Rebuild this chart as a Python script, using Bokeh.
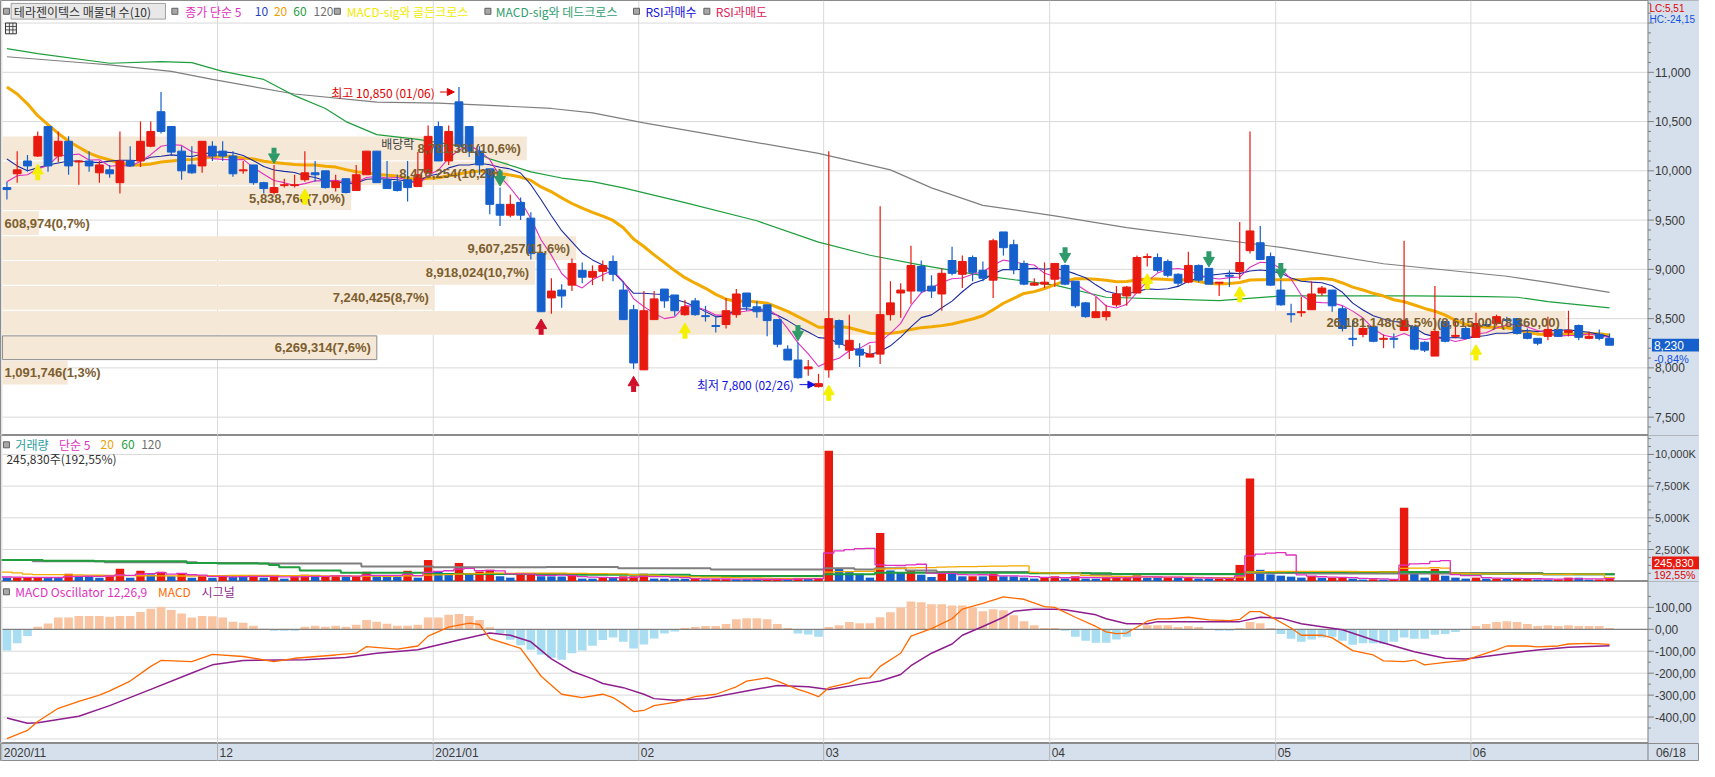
import pandas as pd
from bokeh.plotting import figure
from bokeh.layouts import column
from bokeh.models import Range1d, ColumnDataSource, Arrow, NormalHead
from bokeh.core.properties import value
from bokeh.embed import file_html
from bokeh.resources import INLINE

# ------------------------------------------------------------------ data
stock_name = "테라젠이텍스"
holidays = ["2020-12-25", "2020-12-31", "2021-01-01", "2021-02-11", "2021-02-12",
            "2021-03-01", "2021-05-05", "2021-05-19"]
dates = [d for d in pd.bdate_range("2020-11-02", "2021-06-18")
         if d.strftime("%Y-%m-%d") not in holidays]

opens = [9830, 9970, 10100, 10150, 10450, 10150, 10300, 10090, 10100, 9980,
         10010, 9880, 10100, 10100, 10250, 10600, 10450, 10200, 10060, 10050,
         10250, 10200, 10150, 10000, 10060, 9880, 9780, 9850, 9850, 9910,
         9980, 10000, 9830, 9920, 9800, 9960, 10200, 9910, 9890, 9910,
         9840, 9980, 10450, 10100, 10700, 10450, 10200, 10020, 9660, 9550,
         9680, 9520, 9160, 8710, 8790, 8840, 8990, 8920, 8980, 9080,
         8790, 8590, 7980, 8490, 8800, 8740, 8540, 8680, 8530, 8430,
         8440, 8540, 8760, 8620, 8640, 8490, 8190, 8080, 7990, 7810,
         7980, 8480, 8180, 8190, 8110, 8140, 8540, 8760, 8780, 9030,
         8830, 8750, 9090, 8950, 9120, 8990, 8890, 9380, 9250, 9060,
         8840, 8850, 8900, 9040, 8880, 8660, 8510, 8520, 8640, 8730,
         8760, 9120, 9120, 9080, 8950, 8870, 9040, 9010, 8860, 8940,
         8980, 9190, 9270, 9130, 8790, 8550, 8560, 8590, 8760, 8790,
         8600, 8300, 8340, 8420, 8290, 8300, 8380, 8420, 8260, 8120,
         8470, 8320, 8400, 8310, 8440, 8450, 8490, 8500, 8350, 8300,
         8320, 8390, 8360, 8430, 8300, 8340, 8300]
highs = [9890, 10200, 10160, 10400, 10450, 10400, 10350, 10110, 10200, 10100,
         10060, 10400, 10250, 10500, 10500, 10800, 10450, 10250, 10250, 10300,
         10300, 10300, 10200, 10100, 10060, 9890, 10060, 9920, 9960, 10200,
         10100, 10000, 9960, 9920, 10060, 10200, 10200, 10100, 9960, 10100,
         10190, 10460, 10500, 10460, 10850, 10450, 10250, 10020, 9830, 9760,
         9730, 9580, 9160, 8910, 8850, 9110, 9070, 9040, 9090, 9140,
         8880, 8640, 8780, 8780, 8800, 8740, 8690, 8710, 8630, 8530,
         8710, 8800, 8760, 8680, 8640, 8490, 8230, 8260, 8080, 7940,
         10200, 8490, 8540, 8250, 8230, 9640, 8880, 8860, 9240, 9090,
         8940, 9010, 9230, 9140, 9140, 9080, 9310, 9380, 9300, 9090,
         8910, 9070, 9060, 9050, 8880, 8670, 8720, 8640, 8830, 8830,
         9140, 9160, 9160, 9100, 8960, 9180, 9050, 9010, 8870, 8990,
         9480, 10400, 9440, 9170, 8890, 8650, 8720, 8880, 8830, 8790,
         8630, 8480, 8480, 8420, 8340, 8350, 9290, 8420, 8270, 8830,
         8470, 8480, 8420, 8560, 8480, 8540, 8520, 8500, 8400, 8300,
         8520, 8390, 8580, 8440, 8370, 8390, 8350]
lows = [9710, 9880, 9990, 10140, 9990, 10090, 9960, 9860, 9990, 9880,
        9930, 9770, 10040, 10040, 10240, 10380, 10150, 9910, 9970, 9980,
        10100, 10100, 9940, 9970, 9860, 9770, 9760, 9830, 9830, 9890,
        9890, 9820, 9790, 9770, 9800, 9960, 9880, 9820, 9790, 9690,
        9840, 9980, 10100, 10060, 10200, 10140, 9960, 9560, 9440, 9530,
        9500, 9100, 8570, 8550, 8610, 8780, 8860, 8840, 8880, 8880,
        8490, 7990, 7980, 8490, 8610, 8530, 8530, 8530, 8470, 8360,
        8400, 8510, 8580, 8510, 8320, 8210, 8080, 7890, 7920, 7800,
        7900, 8200, 8090, 8010, 8110, 8040, 8480, 8510, 8650, 8760,
        8710, 8580, 8940, 8810, 8880, 8880, 8710, 9140, 8950, 8840,
        8830, 8810, 8820, 8840, 8610, 8510, 8510, 8480, 8620, 8630,
        8760, 9030, 8970, 8920, 8830, 8860, 8870, 8850, 8730, 8820,
        8900, 9160, 9100, 8830, 8630, 8460, 8520, 8590, 8730, 8570,
        8370, 8220, 8310, 8260, 8200, 8200, 8380, 8180, 8160, 8120,
        8260, 8300, 8290, 8310, 8420, 8430, 8460, 8340, 8290, 8230,
        8280, 8320, 8320, 8280, 8290, 8280, 8230]
closes = [9810, 10010, 10050, 10350, 10050, 10300, 10050, 10100, 10050, 10060,
          9970, 10100, 10050, 10300, 10400, 10400, 10190, 10000, 9980, 10300,
          10150, 10150, 9970, 10010, 9880, 9820, 9830, 9860, 9860, 9980,
          9960, 9830, 9890, 9780, 9960, 10200, 9880, 9820, 9800, 9830,
          9960, 10350, 10100, 10400, 10250, 10200, 10060, 9660, 9550, 9660,
          9550, 9160, 8570, 8780, 8730, 9060, 8920, 8980, 9040, 8950,
          8490, 8050, 8580, 8700, 8680, 8580, 8620, 8540, 8520, 8420,
          8580, 8750, 8620, 8570, 8480, 8240, 8080, 7900, 8010, 7840,
          8500, 8240, 8280, 8130, 8140, 8540, 8660, 8790, 9040, 8780,
          8780, 8960, 8960, 9080, 8970, 8910, 9290, 9220, 9000, 8850,
          8860, 8870, 9060, 8850, 8630, 8520, 8570, 8570, 8750, 8820,
          9120, 9130, 8990, 8940, 8860, 9040, 8890, 8850, 8870, 8930,
          9070, 9390, 9100, 8840, 8640, 8540, 8570, 8750, 8810, 8630,
          8400, 8290, 8400, 8270, 8300, 8290, 8480, 8190, 8180, 8370,
          8270, 8330, 8300, 8450, 8430, 8520, 8480, 8350, 8300, 8250,
          8390, 8320, 8380, 8310, 8320, 8300, 8230]
volumes = [280000, 290000, 300000, 310000, 290000, 280000, 590000, 400000, 390000, 280000,
           390000, 980000, 280000, 820000, 540000, 745000, 390000, 590000, 280000, 390000,
           280000, 390000, 380000, 370000, 460000, 280000, 390000, 200000, 390000, 510000,
           390000, 400000, 410000, 390000, 400000, 745000, 390000, 380000, 370000, 820000,
           280000, 1670000, 770000, 590000, 1440000, 590000, 770000, 900000, 390000, 280000,
           590000, 640000, 390000, 380000, 370000, 463000, 206000, 200000, 257000, 250000,
           385000, 390000, 591000, 206000, 200000, 195000, 190000, 206000, 154000, 160000,
           165000, 155000, 150000, 145000, 155000, 160000, 150000, 257000, 206000, 210000,
           10300000, 1028000, 720000, 591000, 283000, 3804000, 848000, 668000, 848000, 514000,
           334000, 720000, 668000, 385000, 390000, 380000, 591000, 385000, 380000, 283000,
           206000, 283000, 385000, 206000, 385000, 206000, 200000, 308000, 310000, 320000,
           463000, 283000, 280000, 290000, 283000, 290000, 206000, 200000, 210000, 215000,
           1285000, 8100000, 900000, 540000, 437000, 360000, 283000, 411000, 260000, 270000,
           280000, 206000, 130000, 154000, 130000, 135000, 5800000, 591000, 283000, 977000,
           437000, 283000, 206000, 283000, 206000, 210000, 200000, 206000, 215000, 130000,
           125000, 130000, 283000, 275000, 120000, 127670, 245830]

ma5_head = [9890, 9950, 9960, 10020]
ma10_head = [10120, 10050, 10000, 10030, 10060, 10080, 10100, 10100, 10090]
ma20_head = [10850, 10780, 10680, 10560, 10470, 10380, 10300, 10240, 10180, 10140,
             10110, 10080, 10060, 10060, 10070, 10090, 10100, 10110, 10115]
ma60_idx = [0, 3, 10, 15, 18, 21, 25, 28, 31, 33, 36, 40, 44, 47, 51, 54, 57, 60, 66, 73,
            79, 84, 89, 95, 102, 107, 118, 124, 137, 144, 147, 150, 156]
ma60_val = [11240, 11190, 11092, 11109, 11099, 11010, 10928, 10763, 10632, 10500, 10368,
            10319, 10253, 10122, 9990, 9927, 9891, 9827, 9677, 9493, 9277, 9143, 9043, 8937,
            8840, 8717, 8683, 8730, 8730, 8723, 8717, 8673, 8610]
ma120_idx = [0, 8, 10, 16, 20, 28, 36, 42, 47, 53, 57, 62, 69, 79, 86, 90, 95, 102, 109,
             124, 134, 146, 150, 156]
ma120_val = [11158, 11092, 11076, 11010, 10928, 10780, 10697, 10688, 10665, 10633, 10589,
             10487, 10360, 10177, 10010, 9827, 9650, 9543, 9423, 9223, 9057, 8930, 8867, 8767]

vma5_head = [330000, 320000, 300000, 300000]
vma20_head = [720000, 650000, 560000, 514000, 514000, 514000, 500000, 490000, 480000, 470000,
              460000, 450000, 440000, 430000, 430000, 420000, 420000, 410000, 410000]
vma60_idx = [0, 4, 9, 18, 21, 26, 27, 29, 33, 42, 55, 67, 80, 85, 100, 108, 121, 141, 150]
vma60_val = [1670000, 1620000, 1568000, 1440000, 1390000, 1285000, 1105000, 848000, 668000,
             565000, 514000, 411000, 540000, 668000, 620000, 560000, 720000, 591000, 540000]
vma120_idx = [0, 3, 10, 19, 25, 35, 42, 53, 60, 69, 80, 83, 85, 88, 91, 100, 106, 108, 121,
              127, 141, 150]
vma120_val = [1670000, 1568000, 1490000, 1440000, 1390000, 1157000, 1105000, 1130000, 1028000,
              925000, 1028000, 925000, 1028000, 848000, 720000, 640000, 514000, 540000, 643000,
              600000, 643000, 540000]

macd_idx = [0, 2, 3, 5, 7, 9, 10, 12, 14, 15, 18, 20, 23, 26, 28, 32, 34, 35, 38, 40,
            41, 43, 45, 46, 47, 50, 52, 54, 56, 58, 59, 60, 61, 62, 63, 65, 67, 69, 71, 72,
            74, 75, 77, 78, 79, 80, 82, 83, 84, 85, 87, 88, 90, 92, 93, 95, 97, 99, 101, 102,
            104, 106, 107, 108, 109, 111, 112, 113, 115, 117, 119, 120, 121, 122, 123, 125, 126,
            128, 129, 131, 133, 134, 136, 137, 138, 140, 142, 143, 145, 146, 148, 149, 151, 152,
            154, 156]
macd_val = [-498, -461, -420, -360, -329, -300, -281, -236, -169, -142, -147, -114, -124, -147,
            -132, -117, -109, -79, -90, -76, -31, 10, 28, 22, -42, -87, -214, -296, -311, -296,
            -311, -341, -375, -370, -348, -333, -307, -296, -262, -236, -221, -236, -274, -289,
            -307, -266, -244, -224, -221, -169, -109, -31, 3, 48, 92, 118, 148, 137, 103, 100,
            55, 13, -12, -20, -17, 37, 48, 48, 55, 43, 40, 45, 81, 81, 58, 6, -27, -27, -39,
            -97, -117, -144, -147, -140, -162, -151, -142, -124, -94, -76, -76, -80, -76, -67,
            -64, -69]
signal_idx = [0, 2, 3, 7, 10, 14, 18, 20, 23, 29, 33, 36, 40, 44, 47, 49, 51, 53, 55, 57,
              58, 60, 62, 63, 65, 68, 72, 75, 78, 80, 83, 85, 87, 88, 90, 92, 93, 95, 97, 98,
              100, 102, 103, 106, 107, 109, 111, 112, 116, 120, 122, 124, 126, 130, 133, 137,
              140, 142, 145, 149, 152, 156]
signal_val = [-404, -428, -426, -396, -348, -274, -199, -162, -142, -139, -129, -109, -93, -49,
              -17, -27, -57, -135, -191, -226, -247, -266, -296, -316, -323, -316, -281, -256,
              -262, -274, -251, -236, -206, -166, -109, -67, -27, 13, 55, 82, 92, 92, 89, 66,
              48, 25, 25, 35, 35, 35, 55, 51, 25, -2, -49, -102, -132, -135, -117, -94, -82, -75]
macd_osc = [-97, -63, -30, 12, 27, 54, 54, 61, 61, 61,
            57, 61, 61, 79, 94, 102, 88, 72, 54, 61,
            60, 54, 34, 30, 16, 3, -6, -6, -6, 12,
            16, 12, 16, 12, 21, 43, 34, 25, 16, 16,
            21, 54, 54, 66, 70, 61, 43, 9, -18, -48,
            -73, -93, -115, -130, -139, -109, -97, -75, -49, -37,
            -57, -87, -69, -42, -19, -10, 6, 10, 15, 15,
            24, 46, 51, 51, 46, 24, 6, -19, -24, -34,
            10, 19, 33, 28, 28, 55, 78, 100, 127, 123,
            114, 114, 109, 109, 100, 82, 91, 87, 64, 37,
            19, 6, 6, -7, -34, -52, -61, -61, -46, -34,
            2, 19, 19, 19, 10, 15, 10, -2, -7, -7,
            6, 33, 28, 6, -21, -43, -57, -46, -37, -34,
            -52, -70, -64, -64, -66, -57, -37, -43, -43, -25,
            -21, -12, -3, 15, 24, 33, 37, 33, 24, 15,
            19, 15, 19, 15, 15, 15, 6]

# volume profile (매물대), bottom band first
profile_band_low = 7825
profile_band_step = 253
profile_volumes = [1091746, 6269314, 26181148, 7240425, 8918024, 9607257, 608974,
                   5838766, 8476254, 8781381]
profile_pcts = [1.3, 7.6, 31.5, 8.7, 10.7, 11.6, 0.7, 7.0, 10.2, 10.6]
profile_max_range = [8615.00, 8360.00]

golden_cross_idx = [3, 29, 66, 80, 111, 120, 143]
dead_cross_idx = [26, 48, 77, 103, 117, 124]
rsi_oversold_idx = [52, 61]
ex_dividend_date = "2020-12-29"

# ------------------------------------------------------------------ geometry
N = len(closes)
idx = list(range(N))
W = 1699
REF_STEP = 10.37                      # reference px per candle
X0 = -1.3 / REF_STEP - 0.5
X1 = X0 + 1715 / REF_STEP


def rx(x):
    return X0 + x / REF_STEP


X_LEFT = rx(2)
X_AXIS = rx(1663)
xr = Range1d(X0, X1)
WPP = 9.944                           # won per reference px


def price_at(y):
    return 11000 - (y - 73.3) * WPP


def vol_at(y):
    return (592.7 - y) * 77300


def macd_at(y):
    return (641.7 - y) / 0.2234


KR = value("Noto Sans CJK KR")
NUM = value("Liberation Sans")
UPC = "#e8190f"
DNC = "#1560cc"
GRID = "#d9d9d9"
COLBG = "#d6e0ec"
AXC = "#7f7f7f"
TXT = "#3a3a3a"
MAG = "#e030c0"
NAVY = "#1a2aa0"
ORG = "#f2a900"
GRN = "#1e9e3c"
GRY = "#7f7f7f"

month_idx = [i for i in idx if i == 0 or dates[i].month != dates[i - 1].month]


def base_fig(h, y0, y1, bg="white"):
    p = figure(width=W, height=h, x_range=xr, y_range=Range1d(y0, y1),
               output_backend="svg", toolbar_location=None,
               x_axis_location=None, y_axis_location=None,
               min_border=0, min_border_left=0, min_border_right=0,
               min_border_top=0, min_border_bottom=0,
               background_fill_color=bg, border_fill_color="white",
               outline_line_color="#8c8c8c", outline_line_width=1)
    p.grid.visible = False
    return p


def grids(p, y0, y1, gl):
    p.segment(x0=[X_LEFT] * len(gl), y0=gl, x1=[X_AXIS] * len(gl), y1=gl,
              line_color=GRID, line_width=1)
    mx = [m - 0.5 for m in month_idx]
    p.segment(x0=mx, y0=[y0] * len(mx), x1=mx, y1=[y1] * len(mx),
              line_color=GRID, line_width=1)


def right_column(p, y0, y1, majors, labels, minors, fs):
    span = y1 - y0
    p.quad(left=[X_AXIS], right=[X1 + 1], bottom=[y0 - span], top=[y1 + span],
           fill_color=COLBG, line_color=None)
    p.segment(x0=[X_AXIS], y0=[y0 - span], x1=[X_AXIS], y1=[y1 + span], line_color=AXC)
    t = 6 / REF_STEP
    p.segment(x0=[X_AXIS] * len(majors), y0=majors, x1=[X_AXIS + t] * len(majors),
              y1=majors, line_color=AXC)
    p.segment(x0=[X_AXIS] * len(minors), y0=minors, x1=[X_AXIS + t / 2] * len(minors),
              y1=minors, line_color=AXC)
    lv = [m for m, l in zip(majors, labels) if l]
    lt = [l for l in labels if l]
    p.text(x=[X_AXIS + 7 / REF_STEP] * len(lv), y=lv, text=lt, text_font=NUM,
           text_font_size=fs, text_color=TXT, text_baseline="middle", text_align="left")


def ltext(p, xref, y, txt, color, font=KR, size="12px", align="left", baseline="middle"):
    p.text(x=[rx(xref)], y=[y], text=[txt], text_color=color, text_font=font,
           text_font_size=size, text_baseline=baseline, text_align=align)


def lsquare(p, xref, y):
    p.rect(x=[rx(xref)], y=[y], width=6, height=6, width_units="screen",
           height_units="screen", fill_color="#a8a8a8", line_color="#606060")


def sma(vals, n, head):
    out = list(head)
    for i in range(n - 1, len(vals)):
        out.append(sum(vals[i - n + 1:i + 1]) / n)
    return out


def comma_dec(v, d=2):
    return f"{v:.{d}f}".replace(".", ",")


# ------------------------------------------------------------------ price panel
PY0, PY1 = price_at(444), price_at(0)
p1 = base_fig(435, PY0, PY1)
pmaj = [7500, 8000, 8500, 9000, 9500, 10000, 10500, 11000, 11500]
plab = [f"{v:,}" for v in pmaj[:-1]] + [""]
pmin = [v for v in range(7400, 11701, 100) if v % 500]
grids(p1, PY0, PY1, pmaj)

# volume profile bands
vmax = max(profile_volumes)
bx_full = rx(1580)
b_lo = [profile_band_low + k * profile_band_step for k in range(len(profile_volumes))]
b_right = [X_LEFT + (bx_full - X_LEFT) * v / vmax for v in profile_volumes]
p1.quad(left=[X_LEFT] * len(b_lo), right=b_right, bottom=[b + 6 for b in b_lo],
        top=[b + profile_band_step - 6 for b in b_lo], fill_color="#f6e8d6", line_color=None)
last_close = closes[-1]
k_cur = [k for k, b in enumerate(b_lo) if b <= last_close < b + profile_band_step][0]
p1.quad(left=[X_LEFT], right=[b_right[k_cur]], bottom=[b_lo[k_cur] + 6],
        top=[b_lo[k_cur] + profile_band_step - 6], fill_color=None, line_color="#8c8c8c")

# moving averages
ma5 = sma(closes, 5, ma5_head)
ma10 = sma(closes, 10, ma10_head)
ma20 = sma(closes, 20, ma20_head)
p1.line(ma120_idx, ma120_val, line_color=GRY, line_width=1.2)
p1.line(ma60_idx, ma60_val, line_color=GRN, line_width=1.2)
p1.line(idx, ma20, line_color=ORG, line_width=3)
p1.line(idx, ma10, line_color=NAVY, line_width=1.1)
p1.line(idx, ma5, line_color=MAG, line_width=1.1)

# candles
ccol = [UPC if c >= o else DNC for o, c in zip(opens, closes)]
csrc = ColumnDataSource(dict(x=idx, h=highs, l=lows,
                             top=[max(o, c) for o, c in zip(opens, closes)],
                             bot=[min(o, c) for o, c in zip(opens, closes)], color=ccol))
p1.segment(x0="x", y0="h", x1="x", y1="l", line_color="color", line_width=1.2, source=csrc)
p1.vbar(x="x", top="top", bottom="bot", width=0.76, fill_color="color", line_color="color",
        line_width=1, source=csrc)

# profile labels
for k, (v, pc) in enumerate(zip(profile_volumes, profile_pcts)):
    t = f"{v:,}({comma_dec(pc, 1)}%)"
    if v == vmax:
        t += f"({profile_max_range[0]:,.2f})-({profile_max_range[1]:,.2f})".replace(".", ",")
    yc = b_lo[k] + profile_band_step / 2
    if v / vmax < 0.1:
        p1.text(x=[X_LEFT + 2 / REF_STEP], y=[yc], text=[t], text_font=NUM,
                text_font_size="13px", text_font_style="bold", text_color="#7c5e2f",
                text_baseline="middle", text_align="left")
    else:
        p1.text(x=[b_right[k] - 6 / REF_STEP], y=[yc], text=[t], text_font=NUM,
                text_font_size="13px", text_font_style="bold", text_color="#7c5e2f",
                text_baseline="middle", text_align="right")


# signal arrows
def up_arrows(ii, color):
    lo = [lows[i] for i in ii]
    p1.scatter(ii, [l - 14 * WPP for l in lo], marker="triangle", size=11,
               fill_color=color, line_color=color)
    p1.rect(ii, [l - 20.5 * WPP for l in lo], width=5, height=6, width_units="screen",
            height_units="screen", fill_color=color, line_color=None)


def down_arrows(ii, color):
    hi = [highs[i] for i in ii]
    p1.scatter(ii, [h + 8 * WPP for h in hi], marker="inverted_triangle", size=11,
               fill_color=color, line_color=color)
    p1.rect(ii, [h + 14.5 * WPP for h in hi], width=5, height=6, width_units="screen",
            height_units="screen", fill_color=color, line_color=None)


up_arrows(golden_cross_idx, "#f5f000")
up_arrows(rsi_oversold_idx, "#d0102a")
down_arrows(dead_cross_idx, "#2e9a6a")

# high / low annotations
imax = max(idx, key=lambda i: highs[i])
imin = min(idx, key=lambda i: lows[i])
hmax, lmin = highs[imax], lows[imin]
yh = hmax - 50
p1.text(x=[imax - 2.35], y=[yh], text=[f"최고 {hmax:,} ({dates[imax].strftime('%m/%d')})"],
        text_font=KR, text_font_size="12px", text_color="#e00000",
        text_baseline="middle", text_align="right")
p1.add_layout(Arrow(end=NormalHead(size=7, fill_color="#e00000", line_color="#e00000"),
                    x_start=imax - 1.85, y_start=yh, x_end=imax - 0.45, y_end=yh,
                    line_color="#e00000", line_width=1))
yl = lmin + 30
p1.text(x=[imin - 2.4], y=[yl], text=[f"최저 {lmin:,} ({dates[imin].strftime('%m/%d')})"],
        text_font=KR, text_font_size="12px", text_color="#1010e0",
        text_baseline="middle", text_align="right")
p1.add_layout(Arrow(end=NormalHead(size=7, fill_color="#1010e0", line_color="#1010e0"),
                    x_start=imin - 1.85, y_start=yl, x_end=imin - 0.35, y_end=yl,
                    line_color="#1010e0", line_width=1))
iex = [i for i in idx if dates[i].strftime("%Y-%m-%d") == ex_dividend_date][0]
p1.text(x=[iex - 0.35], y=[highs[iex]], text=["배당락"], text_font=KR, text_font_size="12px",
        text_color="#404040", text_baseline="bottom", text_align="right")

# legend row
ly = price_at(11)
lsquare(p1, 6, ly)
p1.quad(left=[rx(10.7)], right=[rx(166.5)], bottom=[price_at(19)], top=[price_at(3)],
        fill_color="#e8e8e8", line_color="#a0a0a0")
ltext(p1, 13.5, ly, f"{stock_name} 매물대 수({len(profile_volumes)})", "#333333")
lsquare(p1, 176, ly)
ltext(p1, 186.5, ly, "종가 단순 5", MAG)
ltext(p1, 256.7, ly, "10", "#1f3fbf")
ltext(p1, 276, ly, "20", "#f0a000")
ltext(p1, 295.5, ly, "60", GRN)
ltext(p1, 316, ly, "120", "#707070")
lsquare(p1, 340, ly)
ltext(p1, 349.6, ly, "MACD-sig와 골든크로스", "#f2ea00")
lsquare(p1, 492, ly)
ltext(p1, 500, ly, "MACD-sig와 데드크로스", "#2e9e6e")
lsquare(p1, 642, ly)
ltext(p1, 651, ly, "RSI과매수", "#1010e0")
lsquare(p1, 713, ly)
ltext(p1, 722, ly, "RSI과매도", "#e0205a")
# small grid icon
p1.quad(left=[rx(5)], right=[rx(16)], bottom=[price_at(34)], top=[price_at(23)],
        fill_color="#f4f4f4", line_color="#303030")
p1.segment(x0=[rx(5), rx(5), rx(9), rx(12.5)], y0=[price_at(26.5), price_at(30), price_at(23), price_at(23)],
           x1=[rx(16), rx(16), rx(9), rx(12.5)], y1=[price_at(26.5), price_at(30), price_at(34), price_at(34)],
           line_color="#303030", line_width=0.8)

right_column(p1, PY0, PY1, pmaj, plab, pmin, "12px")
lc = (last_close - lmin) / lmin * 100
hc = (last_close - hmax) / hmax * 100
ltext(p1, 1664.5, price_at(8.5), f"LC:{comma_dec(lc)}", "#e00000", font=NUM, size="10px")
ltext(p1, 1664.5, price_at(19.5), f"HC:{comma_dec(hc)}", "#1050e0", font=NUM, size="10px")
p1.quad(left=[rx(1667)], right=[X1 + 1], bottom=[last_close - 6.5 * WPP],
        top=[last_close + 6.5 * WPP], fill_color="#1560cc", line_color=None)
ltext(p1, 1669, last_close, f"{last_close:,}", "white", font=NUM, size="12px")
chg = (last_close - closes[-2]) / closes[-2] * 100
ltext(p1, 1669, last_close - 14 * WPP, f"{comma_dec(chg)}%", "#1050e0", font=NUM, size="11px")

# ------------------------------------------------------------------ volume panel
VY0, VY1 = vol_at(593), vol_at(444)
p2 = base_fig(146, VY0, VY1)
vmaj = [2500000, 5000000, 7500000, 10000000]
vlab = [f"{v // 1000:,}K" for v in vmaj]
vmin = [v for v in range(625000, 11250001, 625000) if v % 2500000]
grids(p2, VY0, VY1, vmaj)
vcol = [DNC] + [UPC if volumes[i] > volumes[i - 1] else DNC for i in range(1, N)]
p2.vbar(x=idx, top=volumes, bottom=0, width=0.82, fill_color=vcol, line_color=None)
vma5 = sma(volumes, 5, vma5_head)
vma20 = sma(volumes, 20, vma20_head)


def step_line(p, xs, ys, color, w):
    p.step([x - 0.5 for x in xs] + [N - 0.5], list(ys) + [ys[-1]], mode="after",
           line_color=color, line_width=w)


step_line(p2, vma120_idx, vma120_val, GRY, 2)
step_line(p2, vma60_idx, vma60_val, GRN, 2)
step_line(p2, idx, vma20, ORG, 1.3)
step_line(p2, idx, vma5, MAG, 1.3)
vy = vol_at(453.5)
lsquare(p2, 6, vy)
ltext(p2, 15, vy, "거래량", "#2a9d9d")
ltext(p2, 59, vy, "단순 5", MAG)
ltext(p2, 101, vy, "20", "#f0a000")
ltext(p2, 122, vy, "60", GRN)
ltext(p2, 142, vy, "120", "#707070")
vpct = volumes[-1] / volumes[-2] * 100
ltext(p2, 6, vol_at(467.5), f"{volumes[-1]:,}주({comma_dec(vpct)}%)", "#333333")
right_column(p2, VY0, VY1, vmaj, vlab, vmin, "11px")
p2.quad(left=[rx(1667)], right=[X1 + 1], bottom=[vol_at(580.5)], top=[vol_at(567.5)],
        fill_color="#e8190f", line_color=None)
ltext(p2, 1669, vol_at(574), f"{volumes[-1]:,}", "white", font=NUM, size="11px")
ltext(p2, 1669, vol_at(586.5), f"{comma_dec(vpct)}%", "#e00000", font=NUM, size="10.5px")

# ------------------------------------------------------------------ MACD panel
MY0, MY1 = macd_at(758), macd_at(593)
p3 = base_fig(162, MY0, MY1)
mmaj = [100, 0, -100, -200, -300, -400]
mlab = [comma_dec(v) for v in mmaj]
mmin = [150, 50, -50, -150, -250, -350, -450]
grids(p3, MY0, MY1, [100, -100, -200, -300, -400, -500])
hcol = ["#f8c4a2" if v >= 0 else "#a8ddf2" for v in macd_osc]
p3.vbar(x=idx, top=macd_osc, bottom=0, width=0.84, fill_color=hcol, line_color=None)
p3.segment(x0=[X_LEFT], y0=[0], x1=[X_AXIS], y1=[0], line_color="#808080", line_width=1.3)
p3.line(signal_idx, signal_val, line_color="#8e1e8e", line_width=1.5)
p3.line(macd_idx, macd_val, line_color="#ff6a00", line_width=1.3)
my = macd_at(603.5)
lsquare(p3, 6, my)
ltext(p3, 15, my, "MACD Oscillator 12,26,9", MAG)
ltext(p3, 159, my, "MACD", "#ff6a00")
ltext(p3, 203, my, "시그널", "#8e1e8e")
right_column(p3, MY0, MY1, mmaj, mlab, mmin, "12px")

# ------------------------------------------------------------------ date strip
p4 = base_fig(18, 0, 1, bg=COLBG)
mx = [m - 0.5 for m in month_idx]
p4.segment(x0=mx, y0=[0] * len(mx), x1=mx, y1=[1] * len(mx), line_color="#b0b0b0")
p4.segment(x0=[X_AXIS], y0=[0], x1=[X_AXIS], y1=[1], line_color=AXC)
mlabels = []
for n, m in enumerate(month_idx):
    d = dates[m]
    mlabels.append(d.strftime("%Y/%m") if (n == 0 or d.month == 1) else d.strftime("%m"))
p4.text(x=[m - 0.5 + 2 / REF_STEP for m in month_idx], y=[0.5] * len(month_idx), text=mlabels,
        text_font=NUM, text_font_size="12px", text_color=TXT, text_baseline="middle",
        text_align="left")
p4.text(x=[rx(1671)], y=[0.5], text=[dates[-1].strftime("%m/%d")], text_font=NUM,
        text_font_size="12px", text_color=TXT, text_baseline="middle", text_align="left")

layout = column(p1, p2, p3, p4, spacing=0)
with open("out.html", "w", encoding="utf-8") as f:
    f.write(file_html(layout, INLINE, title="테라젠이텍스"))
